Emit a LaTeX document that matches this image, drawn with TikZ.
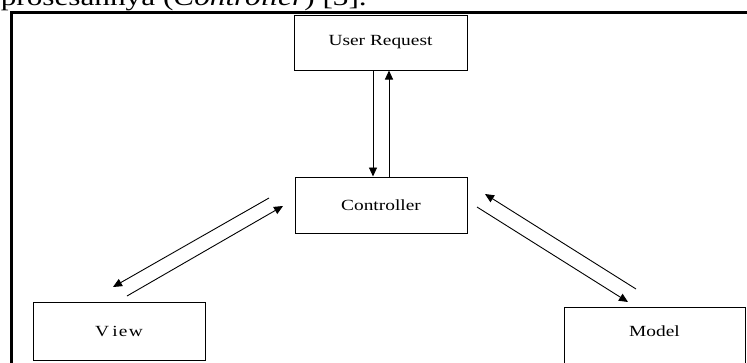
\documentclass[tikz,border=0pt]{standalone}
\usepackage{fontspec}
\setmainfont{Liberation Serif}
\usetikzlibrary{arrows.meta}
\tikzset{
  block/.style={draw=black, line width=1pt, rectangle, inner sep=0pt,
    font=\fontsize{15.5}{18}\selectfont},
  flow/.style={draw=black, line width=0.9pt, -{Triangle[length=9pt,width=8pt]}},
  frameline/.style={draw=black, line width=2.6pt}
}
\newcommand{\wide}[1]{\scalebox{1.25}[1]{#1}}
\begin{document}
\begin{tikzpicture}[x=1pt, y=-1pt]
  \useasboundingbox (0,0) rectangle (747,362);
  \clip (0,0) rectangle (747,362);

  % trailing line of the running text above the figure
  \node[anchor=base east, inner sep=0pt, font=\fontsize{25}{30}\selectfont]
    (caption) at (367,5) {\wide{prosesannya (\textit{Controller}) [3].}};

  % figure frame
  \draw[frameline] (11.3,400) |- (780,12.3);

  % components
  \node[block, minimum width=173pt, minimum height=55pt] (ur)    at (380.5,42.5) {\wide{User Request}};
  \node[block, minimum width=172pt, minimum height=56pt] (ctrl)  at (381,205)    {\wide{Controller}};
  \node[block, minimum width=172pt, minimum height=58pt] (view)  at (119,331)    {\wide{V\kern2.5pt i\kern1pt e\kern1pt w}};
  \node[block, minimum width=181pt, minimum height=58pt] (model) at (654.5,336)  {\raisebox{9pt}{\wide{Model}}};

  % request / response between user and controller
  \draw[flow] ([xshift=-7.5pt]ur.south) -- ([xshift=-7.5pt]ur.south |- ctrl.north);
  \draw[flow] ([xshift=8.5pt]ur.south |- ctrl.north) -- ([xshift=8.5pt]ur.south);

  % controller <-> view
  \coordinate (cv1) at (269,198);
  \coordinate (cv2) at (113,287);
  \coordinate (vc1) at (127,296);
  \coordinate (vc2) at (283,206);
  \draw[flow] (cv1) -- (cv2);
  \draw[flow] (vc1) -- (vc2);

  % controller <-> model
  \coordinate (mc1) at (636,289);
  \coordinate (mc2) at (485,194);
  \coordinate (cm1) at (477,207);
  \coordinate (cm2) at (628,302);
  \draw[flow] (mc1) -- (mc2);
  \draw[flow] (cm1) -- (cm2);
\end{tikzpicture}
\end{document}
